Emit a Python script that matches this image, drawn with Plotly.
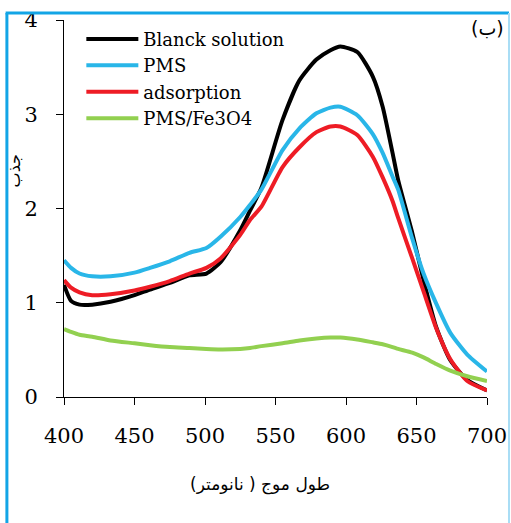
import plotly.graph_objects as go

wavelength = [400, 405, 411, 420, 433, 450, 461, 475, 489, 501, 511, 525, 532, 540, 555,
              567, 579, 589, 596, 608, 619, 626, 633, 637, 647, 655, 664, 674, 686, 700]

blank = [1.19, 1.02, 0.98, 0.98, 1.01, 1.08, 1.14, 1.21, 1.29, 1.31, 1.43, 1.77, 1.98, 2.22, 2.94,
         3.36, 3.58, 3.68, 3.72, 3.66, 3.40, 3.08, 2.59, 2.30, 1.74, 1.24, 0.74, 0.39, 0.18, 0.07]
pms = [1.45, 1.37, 1.31, 1.28, 1.28, 1.32, 1.37, 1.44, 1.53, 1.58, 1.70, 1.91, 2.04, 2.20, 2.62,
       2.85, 3.01, 3.07, 3.08, 2.99, 2.79, 2.59, 2.34, 2.20, 1.68, 1.31, 0.99, 0.68, 0.45, 0.27]
adsorption = [1.24, 1.16, 1.11, 1.08, 1.09, 1.13, 1.17, 1.23, 1.31, 1.37, 1.47, 1.72, 1.88, 2.02, 2.44,
              2.65, 2.81, 2.87, 2.87, 2.78, 2.55, 2.33, 2.08, 1.90, 1.47, 1.12, 0.73, 0.40, 0.17, 0.07]
pms_fe3o4 = [0.72, 0.69, 0.66, 0.64, 0.60, 0.57, 0.55, 0.53, 0.52, 0.51, 0.505, 0.51, 0.52, 0.54, 0.57,
             0.60, 0.62, 0.63, 0.63, 0.61, 0.58, 0.56, 0.53, 0.51, 0.47, 0.42, 0.35, 0.28, 0.22, 0.17]

series_names = ["Blanck solution", "PMS", "adsorption", "PMS/Fe3O4"]
series_values = [blank, pms, adsorption, pms_fe3o4]
series_colors = ["#000000", "#29B6E8", "#EE1C25", "#92D050"]

x_ticks = [400, 450, 500, 550, 600, 650, 700]
y_ticks = [0, 1, 2, 3, 4]

fig = go.Figure()
for i, (name, vals, col) in enumerate(zip(series_names, series_values, series_colors)):
    fig.add_trace(go.Scatter(x=wavelength, y=vals, name=name, mode="lines",
                             line=dict(color=col, width=4, shape="spline", smoothing=0.6),
                             legendgroup=f"g{i}"))

font_serif = "DejaVu Serif"
fig.update_layout(
    width=511, height=523,
    autosize=False,
    margin=dict(l=64, r=24, t=20, b=126),
    paper_bgcolor="white", plot_bgcolor="white",
    showlegend=True,
    legend=dict(x=0.041, y=0.998, xanchor="left", yanchor="top",
                font=dict(family=font_serif, size=18, color="black"),
                bgcolor="rgba(0,0,0,0)", itemwidth=52, tracegroupgap=4,
                traceorder="normal"),
    xaxis=dict(range=[400, 700], tickvals=x_ticks, ticks="outside", ticklen=7,
               tickcolor="black", showline=True, linecolor="black", linewidth=1,
               showgrid=False, zeroline=False, ticklabelstandoff=13, automargin=False,
               tickfont=dict(family=font_serif, size=21, color="black")),
    yaxis=dict(range=[0, 4], tickvals=y_ticks, ticks="outside", ticklen=7,
               tickcolor="black", showline=True, linecolor="black", linewidth=1,
               showgrid=False, zeroline=False, ticklabelstandoff=14, automargin=False,
               tickfont=dict(family=font_serif, size=21, color="black")),
    annotations=[
        dict(text="طول موج ( نانومتر)", x=0.463, y=-0.265, xref="paper", yref="paper",
             showarrow=False, font=dict(family="DejaVu Sans", size=17, color="black")),
        dict(text="جذب", x=-0.144, y=0.60, xref="paper", yref="paper", textangle=-90,
             showarrow=False, font=dict(family="DejaVu Sans", size=16, color="black")),
        dict(text="(ب)", x=1.046, y=1.014, xref="paper", yref="paper", xanchor="right",
             showarrow=False, font=dict(family="DejaVu Sans", size=19, color="black")),
    ],
    shapes=[
        dict(type="line", xref="paper", yref="paper", x0=-0.135, x1=-0.135, y0=-0.45, y1=1.0186,
             line=dict(color="#12A5E6", width=3)),
        dict(type="line", xref="paper", yref="paper", x0=-0.138, x1=1.052, y0=1.0186, y1=1.0186,
             line=dict(color="#12A5E6", width=3)),
        dict(type="line", xref="paper", yref="paper", x0=1.052, x1=1.052, y0=-0.45, y1=1.0186,
             line=dict(color="#A9DDF5", width=2)),
    ],
)

fig.write_html("out.html", config={"responsive": False, "displayModeBar": False},
               post_script="document.body.style.margin='0';document.body.style.overflow='hidden';")
